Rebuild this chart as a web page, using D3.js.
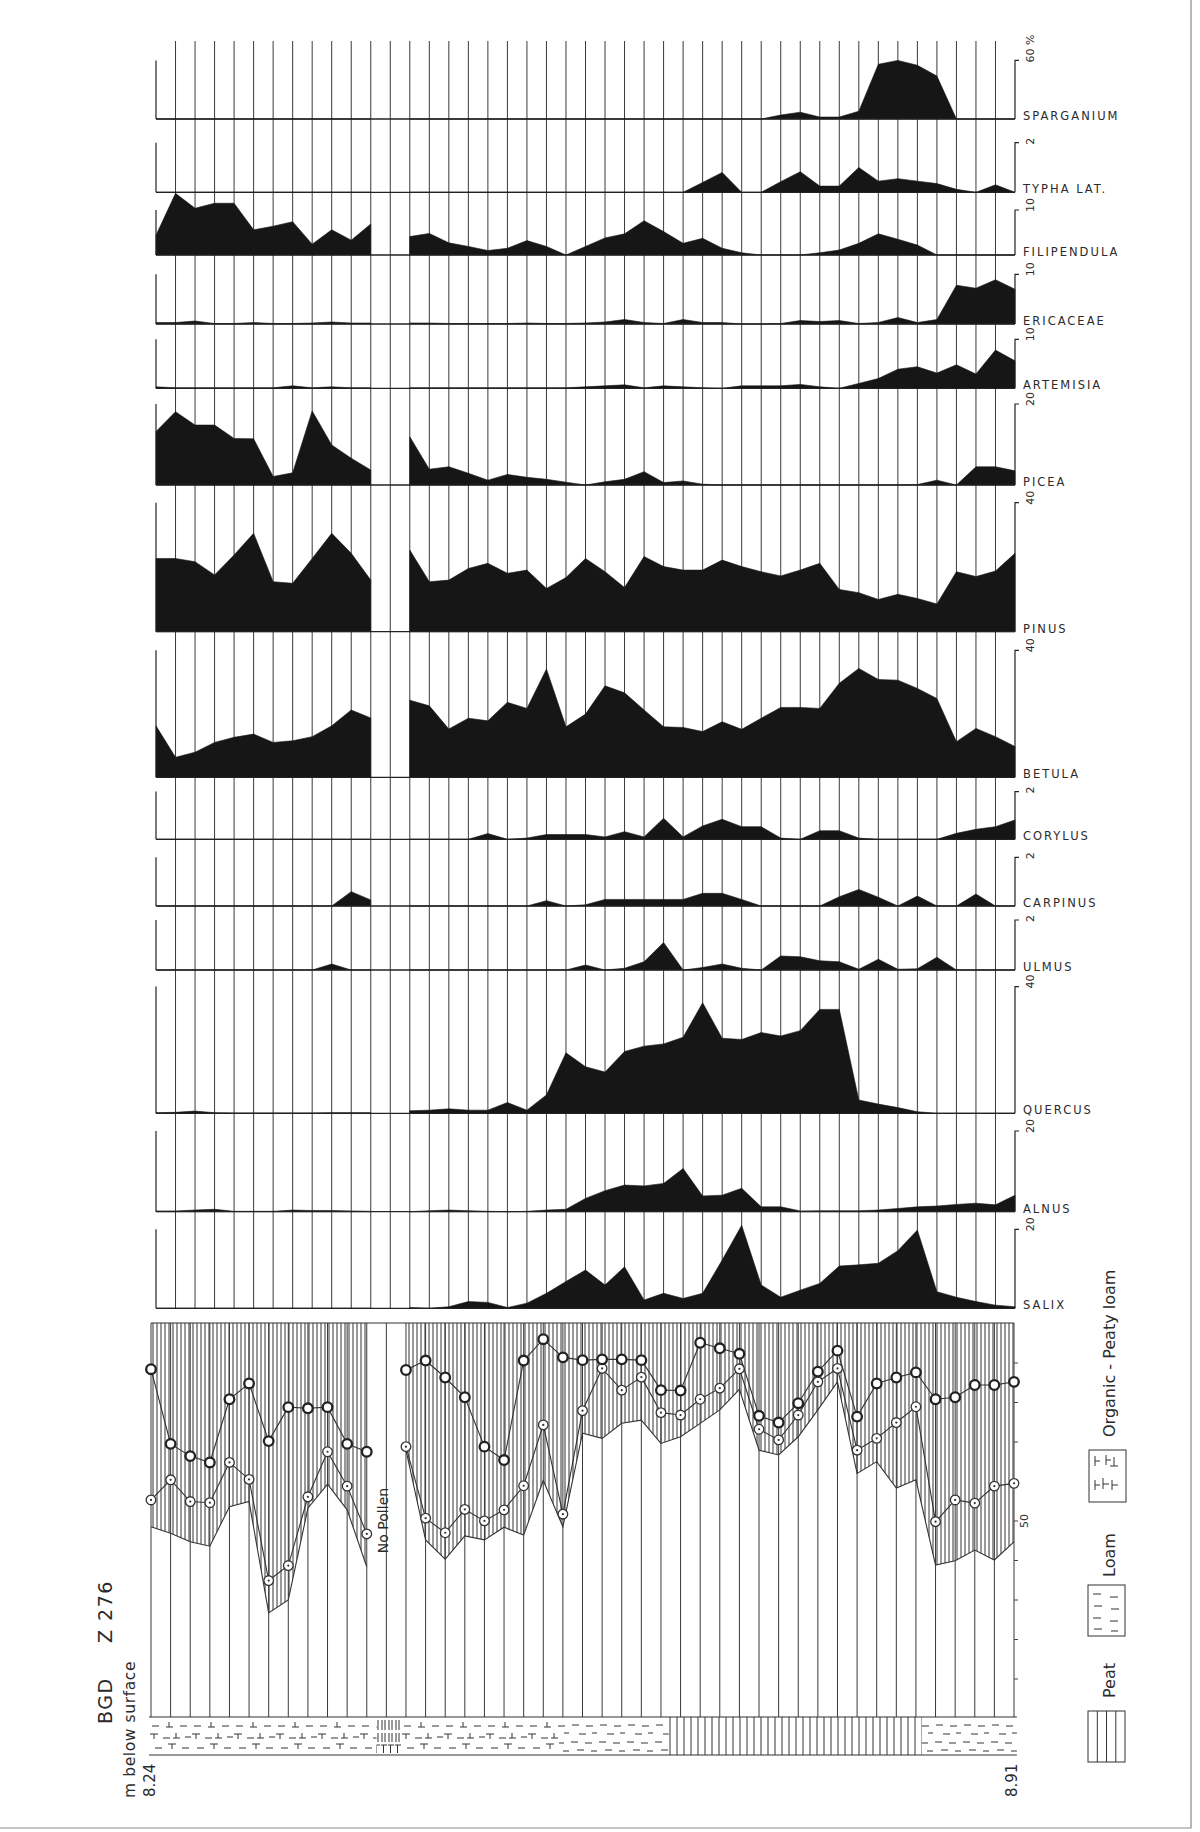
<!DOCTYPE html>
<html>
<head>
<meta charset="utf-8">
<script src="https://cdn.jsdelivr.net/npm/d3@7"></script>
<style>
  body { margin: 0; background: #fff; }
  svg { display: block; }
  text { font-family: 'DejaVu Sans', sans-serif; fill: #2b2b2b; }
</style>
</head>
<body>
<script>
const n = null

const taxa = ['SPARGANIUM', 'TYPHA LAT.', 'FILIPENDULA', 'ERICACEAE', 'ARTEMISIA', 'PICEA', 'PINUS',
  'BETULA', 'CORYLUS', 'CARPINUS', 'ULMUS', 'QUERCUS', 'ALNUS', 'SALIX']
const scaleMax = [60, 2, 10, 10, 10, 20, 40, 40, 2, 2, 2, 40, 20, 20]
const scaleLabels = ['60 %', '2', '10', '10', '10', '20', '40', '40', '2', '2', '2', '40', '20', '20']

// percent values per sample, index 12 = no pollen
const sparganium = [0,0,0,0,0,0,0,0,0,0,0,0,n,0,0,0,0,0,0,0,0,0,0,0,0,0,0,0,0,0,0,0,4,7,2,2,8,56,60,55,44,0,0,0,0]
const typha = [0,0,0,0,0,0,0,0,0,0,0,0,n,0,0,0,0,0,0,0,0,0,0,0,0,0,0,0,0.4,0.8,0,0,0.43,0.83,0.25,0.25,1.0,0.45,0.55,0.45,0.35,0.12,0,0.3,0]
const filipendula = [4.4,13.7,10.4,11.5,11.5,5.6,6.4,7.4,2.4,5.6,3.3,6.9,n,4.1,4.8,2.7,1.9,1.0,1.5,3.2,1.9,0,1.9,3.8,4.7,7.6,5.2,2.6,3.7,1.5,0.5,0,0,0,0.5,1.1,2.6,4.7,3.5,2.2,0,0,0,0,0]
const ericaceae = [0.3,0.3,0.6,0.1,0.1,0.3,0.1,0.1,0.2,0.4,0.2,0.2,n,0.2,0.2,0.1,0.1,0.1,0.1,0.2,0.1,0.1,0.2,0.4,0.9,0.3,0.1,0.9,0.3,0.3,0,0,0.1,0.7,0.5,0.7,0.1,0.3,1.3,0.3,0.9,7.8,7.2,8.9,7.0]
const artemisia = [0.3,0.1,0.1,0.1,0.1,0.1,0.1,0.5,0.1,0.3,0.1,0.1,n,0.1,0.1,0.1,0.1,0.1,0.1,0.1,0.1,0.1,0.3,0.5,0.7,0.1,0.5,0.3,0.1,0,0.5,0.5,0.5,0.8,0.3,0,1.0,2.0,3.9,4.4,3.1,4.8,2.9,7.8,5.6]
const picea = [13.2,18.1,14.8,14.8,11.5,11.4,2.1,3.0,18.3,9.9,6.6,3.7,n,11.9,3.9,4.5,2.9,1.2,2.6,1.9,1.4,0.7,0,0.8,1.4,3.3,0.6,1.0,0.2,0,0,0,0,0,0,0,0,0,0,0.1,1.2,0,4.5,4.5,3.5]
const pinus = [22.7,22.7,21.7,17.6,23.8,30.5,15.5,15.0,22.7,30.5,24.3,16.0,n,25.3,15.5,16.0,19.6,21.2,18.1,19.1,13.4,16.8,22.7,18.6,13.7,23.3,20.2,19.1,19.1,22.2,20.2,18.6,17.3,19.1,21.2,13.1,12.1,10.0,11.6,10.3,8.6,18.6,17.1,18.8,24.3]
const betula = [16.2,6.3,7.9,11.0,12.6,13.6,11.0,11.5,12.8,16.2,21.2,18.7,n,24.3,22.5,15.2,18.6,17.8,23.6,21.7,34.1,15.9,19.9,28.8,26.6,21.2,15.9,15.7,14.4,17.5,15.1,18.6,22.0,22.0,21.7,29.6,34.3,30.8,30.6,28.0,24.8,11.2,15.4,12.8,9.7]
const corylus = [0,0,0,0,0,0,0,0,0,0,0,0,n,0,0,0,0,0.24,0,0.05,0.2,0.2,0.2,0.1,0.32,0.1,0.88,0.1,0.56,0.84,0.53,0.53,0.05,0,0.36,0.36,0.05,0,0,0,0,0.25,0.42,0.53,0.81]
const carpinus = [0,0,0,0,0,0,0,0,0,0,0.59,0.25,n,0,0,0,0,0,0,0,0.22,0,0.05,0.27,0.27,0.27,0.27,0.27,0.52,0.52,0.27,0,0,0,0,0.38,0.68,0.36,0,0.41,0,0,0.49,0,0]
const ulmus = [0,0,0,0,0,0,0,0,0,0.24,0,0,n,0,0,0,0,0,0,0,0,0,0.2,0,0.07,0.33,1.1,0,0.1,0.24,0.07,0,0.56,0.53,0.37,0.33,0.03,0.43,0.03,0.05,0.51,0,0,0,0]
const quercus = [0.2,0.3,0.7,0.2,0.1,0.1,0.1,0.1,0.1,0.2,0.2,0.2,n,0.8,1.0,1.4,1.0,1.0,3.4,1.0,5.8,19.1,14.7,13,19.5,21.2,21.9,24.0,34.9,23.7,23.3,25.5,24.4,26.1,32.8,32.8,4.2,2.9,1.8,0.5,0,0,0,0,0]
const alnus = [0.2,0.2,0.4,0.6,0.1,0.1,0.1,0.4,0.3,0.3,0.2,0.1,n,0,0.25,0.4,0.25,0.1,0,0.1,0.4,0.6,3.3,5.2,6.6,6.4,7.0,10.7,3.9,4.1,5.8,1.2,1.2,0.2,0.25,0.25,0.25,0.4,0.8,1.2,1.4,1.8,2.1,1.7,4.1]
const salix = [0,0,0,0,0,0,0,0,0,0,0,0,n,0.2,0,0.4,1.7,1.5,0.2,1.3,3.8,6.8,9.7,5.9,10.5,2.1,3.8,2.5,3.8,12.2,21,5.9,2.8,4.6,6.3,10.7,11.0,11.4,14.6,19.8,4.2,2.8,1.7,0.8,0.4]

// lower diagram, percent
const curveBold = [88.3,69.4,66.3,64.7,80.7,84.7,70.1,78.7,78.4,78.7,69.4,67.4,n,88.1,90.5,86.2,81.2,68.7,65.3,90.5,95.9,91.3,90.6,90.8,90.8,90.6,83.0,82.9,95.0,93.6,92.2,76.5,74.8,79.7,87.7,93.0,76.3,84.7,86.2,87.5,80.7,81.2,84.3,84.3,85.1]
const curveDot = [55.2,60.3,54.8,54.5,64.7,60.4,34.8,38.6,56.0,67.4,58.7,46.6,n,68.7,50.6,46.9,52.8,49.9,52.7,58.8,74.2,51.6,77.8,88.5,83.0,86.3,77.3,76.7,80.7,83.5,88.4,73.1,70.4,76.7,85.1,88.5,67.8,70.8,74.8,78.8,49.7,55.2,54.4,58.7,59.4]
const curveLow = [48.4,46.8,44.6,43.5,53.5,54.8,26.6,29.9,53.1,59.2,52.7,38.3,n,67.8,45.1,40.2,46.1,45.1,48.3,46.3,60.1,48.4,72.1,70.8,74.6,75.4,69.5,71.2,74.6,78.0,83.2,67.8,66.6,71.2,78.0,85.1,61.9,64.9,58.2,60.3,38.7,39.8,42.5,40.0,44.6]

// sediment column, in sample units
const lithoType = ['organic', 'mixed', 'organic', 'loam', 'peat', 'loam']
const lithoFrom = [-0.1, 11.5, 12.8, 20.8, 26.4, 39.3]
const lithoTo = [11.5, 12.8, 20.8, 26.4, 39.3, 44.15]

const depthLabels = ['8.24', '8.91']

const pollen = [sparganium, typha, filipendula, ericaceae, artemisia, picea, pinus,
  betula, corylus, carpinus, ulmus, quercus, alnus, salix]

const W = 1200
const H = 1832
const ink = '#161616'
const line = '#3a3a3a'

const baseY = [119, 192.3, 255, 324, 388.3, 485, 631.7, 777.3, 839.3, 906, 970, 1113.3, 1211.7, 1308.3]
const barH = [58.6, 49.6, 45, 49.7, 49, 81, 129, 127, 47.7, 48.7, 50, 126.7, 80.7, 79]
const topY = 41

const svg = d3.select('body')
  .append('svg')
  .attr('width', W)
  .attr('height', H)

svg.append('rect').attr('width', W).attr('height', H).attr('fill', '#fff')

// page frame edges
svg.append('path')
  .attr('d', 'M1191,0V1828H0')
  .attr('fill', 'none')
  .attr('stroke', '#8a8a8a')
  .attr('stroke-width', 1.2)

const defs = svg.append('defs')

function pattern(id, w, h, path, px, py) {
  const p = defs.append('pattern')
    .attr('id', id)
    .attr('patternUnits', 'userSpaceOnUse')
    .attr('x', px || 0)
    .attr('y', py || 0)
    .attr('width', w)
    .attr('height', h)
  p.append('path')
    .attr('d', path)
    .attr('fill', 'none')
    .attr('stroke', '#333')
    .attr('stroke-width', 1)
}

pattern('hatch', 4, 10, 'M1 0v10', 0, 0)
pattern('organic', 42, 38,
  'M3 9h7 M20 5v5 M17 10h7 M31 9h7 M1 17h8 M5 17v5 M14 21h7 M27 16v5 M24 21h7 M36 20h6 M6 31h7 M19 27h8 M23 27v5 M33 31h7',
  149, 1717)
pattern('loam', 28, 38,
  'M3 8h7 M17 9h7 M10 17h7 M23 16h5 M2 25h7 M16 26h7 M8 33h7 M22 34h6', 149, 1717)
pattern('peat', 7, 38, 'M3 0v38', 149, 1717)
pattern('mixed', 7, 38, 'M2 3v10 M5 3v10 M2 16v9 M5 16v9 M1 28h6 M3.5 28v8', 149, 1717)

const x = d3.scaleLinear().domain([0, 44]).range([156, 1015])
const xB = d3.scaleLinear().domain([0, 44]).range([151, 1014])
const samples = d3.range(45)

// grid of sample lines through the pollen panels
svg.append('g')
  .selectAll('line')
  .data(samples.filter(i => i > 0 && i < 44))
  .enter()
  .append('line')
  .attr('x1', d => x(d))
  .attr('x2', d => x(d))
  .attr('y1', topY)
  .attr('y2', baseY[baseY.length - 1])
  .attr('stroke', line)
  .attr('stroke-width', 1)

pollen.forEach((vals, t) => {
  const base = baseY[t]
  const y = d3.scaleLinear()
    .domain([0, scaleMax[t]])
    .range([base, base - barH[t]])
  const pts = vals.map((v, i) => ({ i, v }))

  const area = d3.area()
    .defined(d => d.v != null)
    .x(d => x(d.i))
    .y0(base)
    .y1(d => y(d.v))

  const g = svg.append('g')

  g.append('path')
    .datum(pts)
    .attr('d', area)
    .attr('fill', ink)
    .attr('stroke', ink)
    .attr('stroke-width', 0.6)

  g.append('line')
    .attr('x1', x(0)).attr('x2', x(44))
    .attr('y1', base).attr('y2', base)
    .attr('stroke', '#222')
    .attr('stroke-width', 1.3)

  g.append('line')
    .attr('x1', x(0)).attr('x2', x(0))
    .attr('y1', y(scaleMax[t])).attr('y2', base)
    .attr('stroke', '#222')
    .attr('stroke-width', 1.2)

  g.append('path')
    .attr('d', `M${x(44) + 4},${y(scaleMax[t])}H${x(44)}V${base}`)
    .attr('fill', 'none')
    .attr('stroke', '#222')
    .attr('stroke-width', 1.2)

  g.append('text')
    .attr('transform', `translate(${x(44) + 19},${y(scaleMax[t]) + 2}) rotate(-90)`)
    .attr('font-size', 11)
    .text(scaleLabels[t])

  g.append('text')
    .attr('x', 1023)
    .attr('y', base + 1)
    .attr('font-family', "'DejaVu Sans Condensed', 'DejaVu Sans', sans-serif")
    .attr('font-size', 11.5)
    .attr('letter-spacing', 2)
    .text(taxa[t])
})

// lower diagram
const yB = d3.scaleLinear().domain([0, 100]).range([1718, 1323])
const stripTop = 1717
const stripBot = 1755

const low = curveLow.map((v, i) => ({ i, v }))
const dot = curveDot.map((v, i) => ({ i, v }))
const bold = curveBold.map((v, i) => ({ i, v }))

svg.append('path')
  .datum(low)
  .attr('d', d3.area()
    .defined(d => d.v != null)
    .x(d => xB(d.i))
    .y0(d => yB(d.v))
    .y1(yB(100)))
  .attr('fill', 'url(#hatch)')

svg.append('g')
  .selectAll('line')
  .data(samples)
  .enter()
  .append('line')
  .attr('x1', d => xB(d))
  .attr('x2', d => xB(d))
  .attr('y1', yB(100))
  .attr('y2', stripTop)
  .attr('stroke', line)
  .attr('stroke-width', 1)

svg.append('line')
  .attr('x1', xB(0)).attr('x2', xB(44))
  .attr('y1', yB(100)).attr('y2', yB(100))
  .attr('stroke', '#333')
  .attr('stroke-width', 1.2)

svg.append('g')
  .attr('transform', `translate(${xB(44)},0)`)
  .call(d3.axisRight(yB)
    .tickValues(d3.range(10, 100, 10))
    .tickSize(4)
    .tickFormat(d => d === 50 ? '50' : ''))
  .call(g => g.select('.domain').remove())
  .call(g => g.selectAll('line').attr('stroke', '#444'))
  .call(g => g.selectAll('text')
    .attr('x', 0)
    .attr('dy', 0)
    .attr('transform', 'translate(14,0) rotate(-90)')
    .attr('text-anchor', 'middle')
    .attr('font-size', 11)
    .attr('fill', '#333')
    .style('font-family', "'DejaVu Sans', sans-serif"))

const curve = (data) => d3.line()
  .defined(d => d.v != null)
  .x(d => xB(d.i))
  .y(d => yB(d.v))(data)

svg.append('path').attr('d', curve(low)).attr('fill', 'none').attr('stroke', '#333').attr('stroke-width', 1.1)
svg.append('path').attr('d', curve(dot)).attr('fill', 'none').attr('stroke', '#333').attr('stroke-width', 1.1)
svg.append('path').attr('d', curve(bold)).attr('fill', 'none').attr('stroke', '#333').attr('stroke-width', 1.1)

const dotG = svg.append('g')
  .selectAll('g')
  .data(dot.filter(d => d.v != null))
  .enter()
  .append('g')
  .attr('transform', d => `translate(${xB(d.i)},${yB(d.v)})`)
dotG.append('circle').attr('r', 4.8).attr('fill', '#fff').attr('stroke', '#333').attr('stroke-width', 1.3)
dotG.append('circle').attr('r', 1.1).attr('fill', '#333')

svg.append('g')
  .selectAll('circle')
  .data(bold.filter(d => d.v != null))
  .enter()
  .append('circle')
  .attr('cx', d => xB(d.i))
  .attr('cy', d => yB(d.v))
  .attr('r', 4.8)
  .attr('fill', '#fff')
  .attr('stroke', '#222')
  .attr('stroke-width', 2.3)

svg.append('text')
  .attr('transform', `translate(${xB(12) + 2},${yB(50)}) rotate(-90)`)
  .attr('text-anchor', 'middle')
  .attr('font-size', 14)
  .text('No Pollen')

// sediment column
svg.append('g')
  .selectAll('rect')
  .data(lithoType)
  .enter()
  .append('rect')
  .attr('x', (d, i) => xB(lithoFrom[i]))
  .attr('width', (d, i) => xB(lithoTo[i]) - xB(lithoFrom[i]))
  .attr('y', stripTop)
  .attr('height', stripBot - stripTop)
  .attr('fill', d => `url(#${d})`)

svg.append('path')
  .attr('d', `M${xB(-0.1)},${stripTop}H${xB(44.15)}M${xB(-0.1)},${stripBot}H${xB(44.15)}`)
  .attr('stroke', '#333')
  .attr('stroke-width', 1.2)

svg.append('text')
  .attr('transform', `translate(155,1797) rotate(-90)`)
  .attr('font-size', 15)
  .text(depthLabels[0])
svg.append('text')
  .attr('transform', `translate(1017,1797) rotate(-90)`)
  .attr('font-size', 15)
  .text(depthLabels[1])
svg.append('text')
  .attr('transform', `translate(135,1798) rotate(-90)`)
  .attr('font-size', 15.5)
  .attr('letter-spacing', 0.6)
  .text('m below surface')

svg.append('text')
  .attr('transform', `translate(112,1724) rotate(-90)`)
  .attr('font-size', 19)
  .attr('letter-spacing', 1.5)
  .text('BGD')
svg.append('text')
  .attr('transform', `translate(112,1643) rotate(-90)`)
  .attr('font-size', 19)
  .attr('letter-spacing', 1.5)
  .text('Z 276')

// legend
const legend = svg.append('g').attr('stroke', '#333').attr('fill', 'none')
legend.append('rect').attr('x', 1088).attr('y', 1711).attr('width', 37).attr('height', 51)
legend.append('path').attr('d', 'M1097.3,1711V1762M1106.5,1711V1762M1115.8,1711V1762')
legend.append('rect').attr('x', 1088).attr('y', 1585).attr('width', 37).attr('height', 51)
legend.append('path').attr('d', 'M1093,1594h8M1110,1597h8M1094,1606h8M1111,1609h8M1093,1618h8M1110,1621h8M1094,1629h8M1111,1631h7')
legend.append('rect').attr('x', 1089).attr('y', 1450).attr('width', 37).attr('height', 52)
legend.append('path').attr('d', 'M1095,1456v10M1095,1461h5M1106,1455v10M1106,1460h5M1114,1457v9M1110,1466h8M1095,1480v10M1095,1485h5M1103,1478v11M1103,1484h6M1112,1480v10M1112,1485h6')

const legText = [['Peat', 1698], ['Loam', 1577], ['Organic - Peaty loam', 1437]]
legText.forEach(d => {
  svg.append('text')
    .attr('transform', `translate(1115,${d[1]}) rotate(-90)`)
    .attr('font-size', 16)
    .text(d[0])
})
</script>
</body>
</html>
